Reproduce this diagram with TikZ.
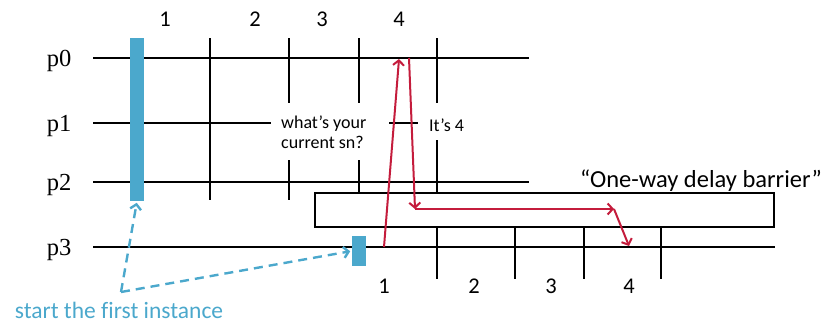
\documentclass[tikz,border=0pt]{standalone}
\usepackage{fontspec}
\setmainfont[Ligatures=CommonOff]{Carlito}
\newfontfamily\serifp{Liberation Serif}
\usetikzlibrary{arrows.meta}
\definecolor{barblue}{RGB}{75,168,204}
\definecolor{msgred}{RGB}{196,28,60}
\tikzset{
  timeline/.style={line width=2pt, black},
  tick/.style={line width=2pt, black},
  procbar/.style={fill=barblue, draw=none, inner sep=0pt},
  msg/.style={line width=2pt, msgred, -{Straight Barb[length=5pt,width=11pt,line width=2pt]}},
  hint/.style={line width=2.4pt, barblue, dash pattern=on 9pt off 6pt, -{Straight Barb[length=5pt,width=11pt,line width=2.4pt,sep]}},
  plabel/.style={font=\serifp\fontsize{24.5}{28}\selectfont, anchor=base, inner sep=0pt},
  num/.style={font=\fontsize{22.5}{26}\selectfont, anchor=base, inner sep=0pt},
  note/.style={font=\fontsize{18}{20}\selectfont, anchor=base west, inner sep=0pt, align=left},
}
\begin{document}
\begin{tikzpicture}[x=1pt, y=-1pt]
\useasboundingbox (0,0) rectangle (821,324);

% process labels
\node[plabel] (lp0) at (59,66) {p0};
\node[plabel] (lp1) at (59,131) {p1};
\node[plabel] (lp2) at (59,190) {p2};
\node[plabel] (lp3) at (59,255) {p3};

% timelines
\coordinate (p0s) at (93,58);  \coordinate (p0e) at (529,58);
\coordinate (p1s) at (93,123); \coordinate (p1e) at (271,123);
\coordinate (p1a) at (389,123); \coordinate (p1b) at (418,123);
\coordinate (p2s) at (93,182); \coordinate (p2e) at (529,182);
\coordinate (p3s) at (93,247); \coordinate (p3e) at (775,247);
\draw[timeline] (p0s) -- (p0e);
\draw[timeline] (p1s) -- (p1e);
\draw[timeline] (p1a) -- (p1b);
\draw[timeline] (p2s) -- (p2e);
\draw[timeline] (p3s) -- (p3e);

% instance boundaries on p0..p2
\draw[tick] (210,38) -- (210,200);
\draw[tick] (289,38) -- (289,103);
\draw[tick] (289,160) -- (289,200);
\draw[tick] (359,38) -- (359,103);
\draw[tick] (359,160) -- (359,193);
\draw[tick] (437,38) -- (437,103);
\draw[tick] (437,140) -- (437,193);

% instance boundaries on p3
\foreach \x in {437,515,584,661} \draw[tick] (\x,227) -- (\x,279);

% instance numbers
\node[num] (t1) at (165,26) {1};
\node[num] (t2) at (255,26) {2};
\node[num] (t3) at (322,26) {3};
\node[num] (t4) at (399,26) {4};
\node[num] (b1) at (384,293) {1};
\node[num] (b2) at (474,293) {2};
\node[num] (b3) at (551,293) {3};
\node[num] (b4) at (629,293) {4};

% barrier
\node[draw=black, line width=1.2pt, fill=white, minimum width=459pt, minimum height=34pt, inner sep=0pt]
  (barrier) at (544.5,210) {};
\node[font=\fontsize{24.5}{28}\selectfont, anchor=base, inner sep=0pt] (barlabel) at (701,187)
  {“One-way delay barrier”};

% first instance bars
\node[procbar, minimum width=14pt, minimum height=163pt] (bar0) at (137,119.5) {};
\node[procbar, minimum width=14pt, minimum height=30pt] (bar3) at (359,251) {};

% hints
\coordinate (corner) at (121,292);
\draw[hint] (corner) -- (bar0.south);
\draw[hint] (corner) -- (bar3.west);
\node[font=\fontsize{23.5}{28}\selectfont, text=barblue, anchor=base, inner sep=0pt] (start) at (119,318.5)
  {start the first instance};

% message texts
\node[note] (ask) at (281,148) {what’s your\\current sn?};
\node[note] (reply) at (429,131) {It’s 4};

% messages
\coordinate (q0) at (384,247);
\coordinate (q1) at (399,59);
\coordinate (r0) at (409,58);
\coordinate (r1) at (415,209);
\coordinate (r2) at (614,209);
\coordinate (r3) at (629,246);
\draw[msg] (q0) -- (q1);
\draw[msg] (r0) -- (r1);
\draw[msg] (r1) -- (r2);
\draw[msg] (r2) -- (r3);
\end{tikzpicture}
\end{document}
